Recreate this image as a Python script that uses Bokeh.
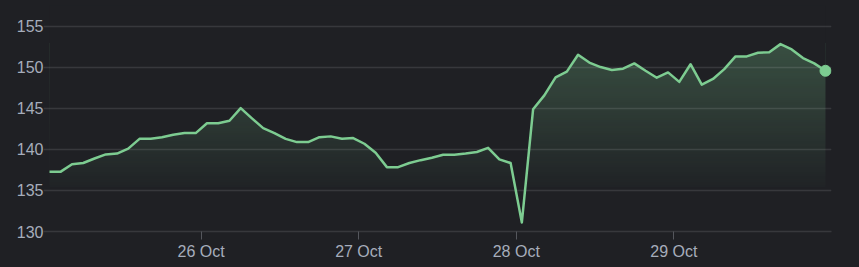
import numpy as np
import pandas as pd
from bokeh.plotting import figure
from bokeh.models import FixedTicker, DatetimeTickFormatter, Range1d
from bokeh.embed import file_html
from bokeh.resources import INLINE

# ---- data ----
times = pd.date_range("2023-10-25 00:55", "2023-10-29 23:05", periods=70)
prices = [
    137.3, 137.3, 138.2, 138.35, 138.9, 139.4, 139.5, 140.1, 141.3, 141.3,
    141.5, 141.8, 142.0, 142.0, 143.2, 143.2, 143.5, 145.05, 143.8, 142.6,
    142.0, 141.3, 140.9,
    140.9, 141.5, 141.6, 141.3, 141.4, 140.7, 139.6, 137.85, 137.85, 138.35,
    138.7, 139.0, 139.35, 139.35, 139.5, 139.7, 140.2, 138.8, 138.35, 131.1,
    144.9, 146.6, 148.8,
    149.5, 151.55, 150.6, 150.05, 149.7, 149.85, 150.5, 149.6, 148.75, 149.4,
    148.25, 150.4, 147.9, 148.6, 149.8, 151.35, 151.35, 151.8, 151.85, 152.85,
    152.2, 151.15, 150.5, 149.6,
]
tick_dates = ["2023-10-26", "2023-10-27", "2023-10-28", "2023-10-29"]
y_ticks = [130, 135, 140, 145, 150, 155]

BG = "#1f2024"
LINE = "#7dcc91"
TEXT = "#a6adbb"
Y_TOP = 157.56

def ms(t):
    return pd.Timestamp(t).value / 1e6

p = figure(
    width=859, height=267, x_axis_type="datetime",
    output_backend="svg", toolbar_location=None,
    x_range=Range1d(ms("2023-10-25 00:00"), ms("2023-10-30 00:00")),
    y_range=Range1d(130, Y_TOP),
    min_border_left=43, min_border_right=28, min_border_top=5, min_border_bottom=36,
)
# colour the page element itself; no canvas fills (avoids clearRect seams in SVG)
p.styles = {"background-color": BG}
p.background_fill_color = None
p.border_fill_color = None
p.outline_line_color = None

# gradient fill under the line (image + mask above the line)
g_lo, g_hi = 135.4, 153.0
n = 256
alphas = np.linspace(0.02, 0.28, n)
rgba = np.zeros((n, 1), dtype=np.uint32)
view = rgba.view(dtype=np.uint8).reshape((n, 1, 4))
view[:, 0, 0] = 125
view[:, 0, 1] = 204
view[:, 0, 2] = 145
view[:, 0, 3] = (alphas * 255).astype(np.uint8)
t0 = ms(times[0])
tn = ms(times[-1])
p.image_rgba(image=[rgba], x=t0, y=g_lo, dw=tn - t0, dh=g_hi - g_lo, level="image")

xs = [t0] + [ms(t) for t in times] + [tn]
ys = [Y_TOP] + prices + [Y_TOP]
p.patch(xs, ys, fill_color=BG, line_color=None, level="image")

# grid
p.xgrid.grid_line_color = None
p.ygrid.ticker = FixedTicker(ticks=y_ticks)
p.ygrid.grid_line_color = "#ffffff"
p.ygrid.grid_line_alpha = 0.11
p.ygrid.grid_line_width = 1.5

# line + end dot
p.line(times, prices, line_color=LINE, line_width=2.5, line_join="round")
p.scatter([times[-1]], [prices[-1]], size=11, fill_color=LINE, line_color=LINE)

# y axis
ya = p.yaxis[0]
ya.ticker = FixedTicker(ticks=y_ticks)
ya.axis_line_color = None
ya.major_tick_line_color = None
ya.minor_tick_line_color = None
ya.major_tick_out = 0
ya.major_tick_in = 0
ya.major_label_standoff = 0
ya.major_label_text_color = TEXT
ya.major_label_text_font = "Liberation Sans"
ya.major_label_text_font_size = "16px"

# x axis
xa = p.xaxis[0]
xa.ticker = FixedTicker(ticks=[ms(d) for d in tick_dates])
fmt = "%d %b"
xa.formatter = DatetimeTickFormatter(
    microseconds=fmt, milliseconds=fmt, seconds=fmt, minsec=fmt, minutes=fmt,
    hourmin=fmt, hours=fmt, days=fmt, months=fmt, years=fmt,
)
xa.axis_line_color = "#ffffff"
xa.axis_line_alpha = 0.11
xa.axis_line_width = 1.5
xa.major_tick_line_color = "#55575d"
xa.major_tick_line_width = 1
xa.major_tick_out = 8
xa.major_tick_in = 0
xa.minor_tick_line_color = None
xa.major_label_standoff = 3
xa.major_label_text_color = TEXT
xa.major_label_text_font = "Liberation Sans"
xa.major_label_text_font_size = "16px"

open("out.html", "w").write(file_html(p, INLINE))
